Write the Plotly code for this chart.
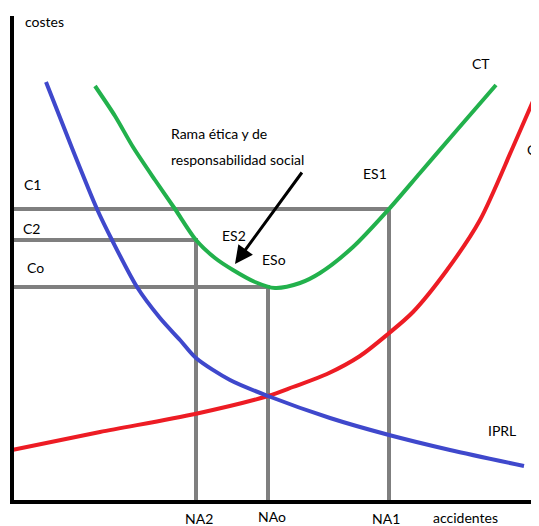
import plotly.graph_objects as go

# ---- data (x = accidentes, y = costes) ----
iprl_x = [34, 60, 85, 100, 125, 148, 168, 184, 218, 256, 318, 377, 438, 512]
iprl_y = [420, 354, 293, 262, 215, 184, 162, 144, 122, 106, 84, 67, 52, 36]

cprl_x = [0, 88, 183, 256, 281, 315, 348, 376, 401, 435, 468, 501, 528]
cprl_y = [52, 70, 88, 106, 115, 128, 146, 168, 190, 232, 282, 355, 417]

ct_x = [83, 103, 121, 143, 163, 184, 203, 221, 243, 263, 288, 308, 341, 377, 408, 445, 484]
ct_y = [416, 386, 355, 322, 293, 262, 244, 232, 220, 214, 219, 229, 255, 293, 329, 372, 417]

na_labels = ["NA2", "NAo", "NA1"]
na_values = [184, 256, 377]
cost_labels = ["C2", "Co", "C1"]
cost_values = [262, 215, 293]

# page has an 8px body margin: the figure is sized to the remaining area
FIG_W, FIG_H = 531, 518
X_RANGE = [-4, 527]
Y_RANGE = [-24, 494]

BLUE = "#3f48cc"
RED = "#ed1c24"
GREEN = "#22b14c"
GRAY = "#7f7f7f"
FONT = "Lato"

fig = go.Figure()

# guide lines (level -> curve -> axis)
for nv, cv in zip(na_values, cost_values):
    fig.add_trace(go.Scatter(
        x=[-2, nv, nv], y=[cv, cv, -1], mode="lines",
        line=dict(color=GRAY, width=4), hoverinfo="skip", showlegend=False))

# curves
fig.add_trace(go.Scatter(x=cprl_x, y=cprl_y, mode="lines",
                         line=dict(color=RED, width=4, shape="spline", smoothing=0.8), showlegend=False))
fig.add_trace(go.Scatter(x=iprl_x, y=iprl_y, mode="lines",
                         line=dict(color=BLUE, width=4, shape="spline", smoothing=0.8), showlegend=False))
fig.add_trace(go.Scatter(x=ct_x, y=ct_y, mode="lines",
                         line=dict(color=GREEN, width=4, shape="spline", smoothing=0.8), showlegend=False))

# axes (drawn as black lines)
fig.add_shape(type="line", x0=0, x1=0, y0=-2, y1=486, xref="x", yref="y", line=dict(color="black", width=4))
fig.add_shape(type="line", x0=-2, x1=530, y0=0, y1=0, xref="x", yref="y", line=dict(color="black", width=4))

def label(text, x, y, anchor="left", size=14):
    fig.add_annotation(x=x, y=y, text=text, showarrow=False, xref="x", yref="y",
                       xanchor=anchor, yanchor="middle", borderpad=0,
                       font=dict(family=FONT, size=size, color="black"))

label("costes", 12, 481)
label("C1", 11, 318)
label("C2", 10, 274)
label("Co", 14, 235)
label("Rama ética y de", 158, 369)
label("responsabilidad social", 158, 343)
label("CT", 459, 439)
label("C", 514, 353)
label("ES1", 350, 329)
label("ES2", 209, 267)
label("ESo", 249, 243)
label("IPRL", 475, 72)
label("NA2", 187, -16, anchor="center")
label("NAo", 260, -14, anchor="center")
label("NA1", 374, -16, anchor="center")
label("accidentes", 420, -15)

# arrow towards the ethical branch
fig.add_annotation(x=223, y=238, ax=291, ay=331, xref="x", yref="y", axref="x", ayref="y",
                   text="", showarrow=True, arrowhead=2, arrowsize=1.2, arrowwidth=3, arrowcolor="black")

fig.update_layout(
    width=FIG_W, height=FIG_H,
    margin=dict(l=0, r=0, t=0, b=0),
    paper_bgcolor="white", plot_bgcolor="white",
    xaxis=dict(range=X_RANGE, visible=False, fixedrange=True),
    yaxis=dict(range=Y_RANGE, visible=False, fixedrange=True),
    showlegend=False,
)

fig.write_html("out.html")
